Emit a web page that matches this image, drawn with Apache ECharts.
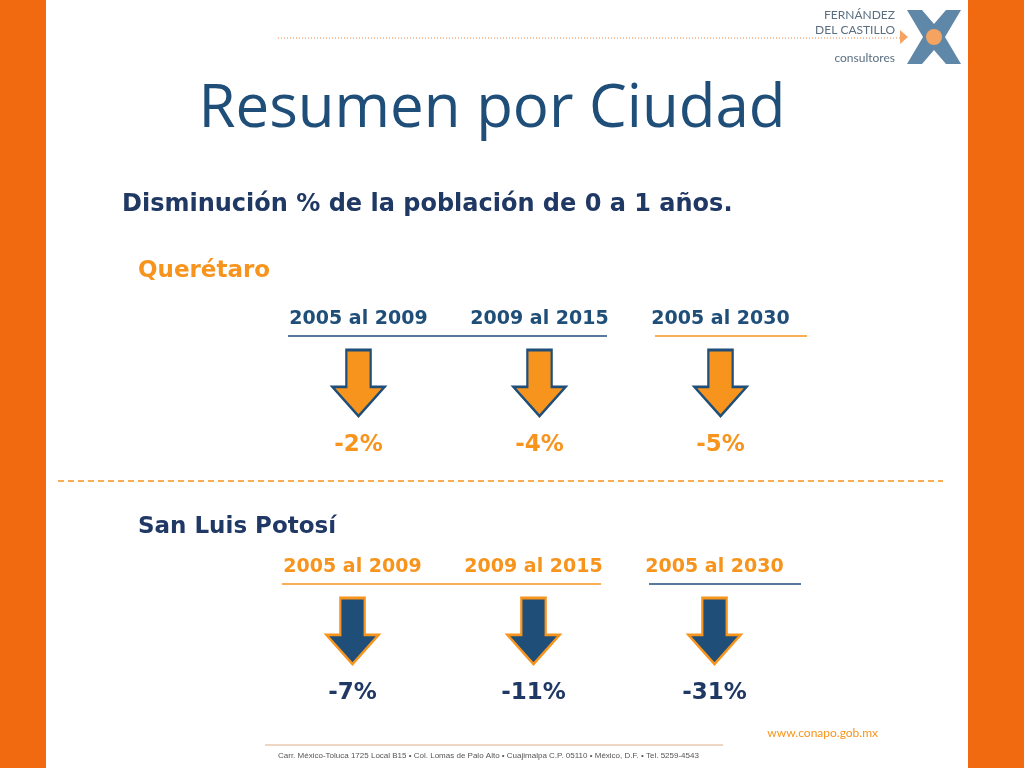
<!DOCTYPE html>
<html>
<head>
<meta charset="utf-8" />
<title>Resumen por Ciudad</title>
<script src="https://cdn.jsdelivr.net/npm/echarts@6/dist/echarts.min.js"></script>
<style>body{margin:0}#main{width:1024px;height:768px}</style>
</head>
<body>
<div id="main"></div>
<script type="text/javascript">
var periods = ['2005 al 2009', '2009 al 2015', '2005 al 2030'];
var queretaro = [-2, -4, -5];
var sanLuis = [-7, -11, -31];

var BLUE = '#1f4e79', ORANGE = '#f7941d';
var arrow = 'path://M28,0 L72,0 L72,56 L97,56 L50,100 L3,56 L28,56 Z';
var myChart = echarts.init(document.getElementById('main'));

function pts(vals) {
	return vals.map(function (v, i) { return [periods[i], 0.5, v]; });
}
var font = 'DejaVu Sans';

var option = {
	animation: false,
	backgroundColor: '#fff',
	grid: [
		{ left: 268, width: 543, top: 350, height: 66 },
		{ left: 262, width: 543, top: 598, height: 66 }
	],
	xAxis: [0, 1].map(function (g) {
		return {
			type: 'category', gridIndex: g, data: periods, position: 'top',
			axisLine: { show: false }, axisTick: { show: false },
			axisLabel: { margin: 21, fontFamily: font, fontWeight: 'bold', fontSize: 19, color: g ? ORANGE : BLUE }
		};
	}),
	yAxis: [0, 1].map(function (g) {
		return { type: 'value', gridIndex: g, min: 0, max: 1, show: false };
	}),
	series: [
		{
			type: 'scatter', xAxisIndex: 0, yAxisIndex: 0, data: pts(queretaro),
			symbol: arrow, symbolSize: [52, 66],
			itemStyle: { color: ORANGE, borderColor: BLUE, borderWidth: 2.5, opacity: 1 },
			label: { show: true, position: 'bottom', distance: 16, fontFamily: font, fontWeight: 'bold', fontSize: 23, color: ORANGE,
				formatter: function (p) { return p.value[2] + '%'; } }
		},
		{
			type: 'scatter', xAxisIndex: 1, yAxisIndex: 1, data: pts(sanLuis),
			symbol: arrow, symbolSize: [52, 66],
			itemStyle: { color: BLUE, borderColor: ORANGE, borderWidth: 2.5, opacity: 1 },
			label: { show: true, position: 'bottom', distance: 16, fontFamily: font, fontWeight: 'bold', fontSize: 23, color: '#1f3864',
				formatter: function (p) { return p.value[2] + '%'; } }
		}
	],
	graphic: [
		{ type: 'rect', shape: { x: 0, y: 0, width: 46, height: 768 }, style: { fill: '#f26a10' } },
		{ type: 'rect', shape: { x: 968, y: 0, width: 56, height: 768 }, style: { fill: '#f26a10' } },
		{ type: 'line', shape: { x1: 278, y1: 38, x2: 900, y2: 38 }, style: { stroke: '#f4b183', lineWidth: 1.5, lineDash: [1, 2] } },
		{ type: 'text', style: { x: 895, y: 8, text: 'FERNÁNDEZ\nDEL CASTILLO', textAlign: 'right', fontFamily: 'Lato', fontSize: 12, lineHeight: 15, fill: '#5b6f82' } },
		{ type: 'text', style: { x: 895, y: 52, text: 'consultores', textAlign: 'right', fontFamily: 'Lato', fontSize: 12, fill: '#5b6f82' } },
		{ type: 'polygon', shape: { points: [[907, 10], [922, 10], [934, 24], [946, 10], [961, 10], [945, 37], [961, 64], [946, 64], [934, 50], [922, 64], [907, 64], [923, 37]] }, style: { fill: '#5f87a8' } },
		{ type: 'circle', shape: { cx: 934, cy: 37, r: 8 }, style: { fill: '#f4a460' } },
		{ type: 'polygon', shape: { points: [[900, 30], [908, 37], [900, 44]] }, style: { fill: '#f4a460' } },
		{ type: 'text', style: { x: 492, y: 110, text: 'Resumen por Ciudad', textAlign: 'center', textVerticalAlign: 'middle', fontFamily: 'Open Sans', fontSize: 60, fill: BLUE } },
		{ type: 'text', style: { x: 122, y: 205, text: 'Disminución % de la población de 0 a 1 años.', textVerticalAlign: 'middle', fontFamily: font, fontWeight: 'bold', fontSize: 24, fill: '#1f3864' } },
		{ type: 'text', style: { x: 138, y: 271, text: 'Querétaro', textVerticalAlign: 'middle', fontFamily: font, fontWeight: 'bold', fontSize: 23, fill: ORANGE } },
		{ type: 'line', shape: { x1: 288, y1: 336, x2: 607, y2: 336 }, style: { stroke: BLUE, lineWidth: 1.5 } },
		{ type: 'line', shape: { x1: 655, y1: 336, x2: 807, y2: 336 }, style: { stroke: ORANGE, lineWidth: 1.5 } },
		{ type: 'line', shape: { x1: 58, y1: 481, x2: 943, y2: 481 }, style: { stroke: ORANGE, lineWidth: 1.5, lineDash: [6, 4] } },
		{ type: 'text', style: { x: 138, y: 527, text: 'San Luis Potosí', textVerticalAlign: 'middle', fontFamily: font, fontWeight: 'bold', fontSize: 23, fill: '#1f3864' } },
		{ type: 'line', shape: { x1: 282, y1: 584, x2: 601, y2: 584 }, style: { stroke: ORANGE, lineWidth: 1.5 } },
		{ type: 'line', shape: { x1: 649, y1: 584, x2: 801, y2: 584 }, style: { stroke: BLUE, lineWidth: 1.5 } },
		{ type: 'text', style: { x: 878, y: 733, text: 'www.conapo.gob.mx', textAlign: 'right', textVerticalAlign: 'middle', fontFamily: 'Lato', fontSize: 12, fill: ORANGE } },
		{ type: 'line', shape: { x1: 265, y1: 745, x2: 723, y2: 745 }, style: { stroke: '#e8c8b0', lineWidth: 1.5 } },
		{ type: 'text', style: { x: 278, y: 756, text: 'Carr. México-Toluca 1725 Local B15 • Col. Lomas de Palo Alto • Cuajimalpa C.P. 05110 • México, D.F. • Tel. 5259-4543', textVerticalAlign: 'middle', fontFamily: 'Liberation Sans', fontSize: 8, fill: '#555' } }
	]
};
myChart.setOption(option);
</script>
</body>
</html>
